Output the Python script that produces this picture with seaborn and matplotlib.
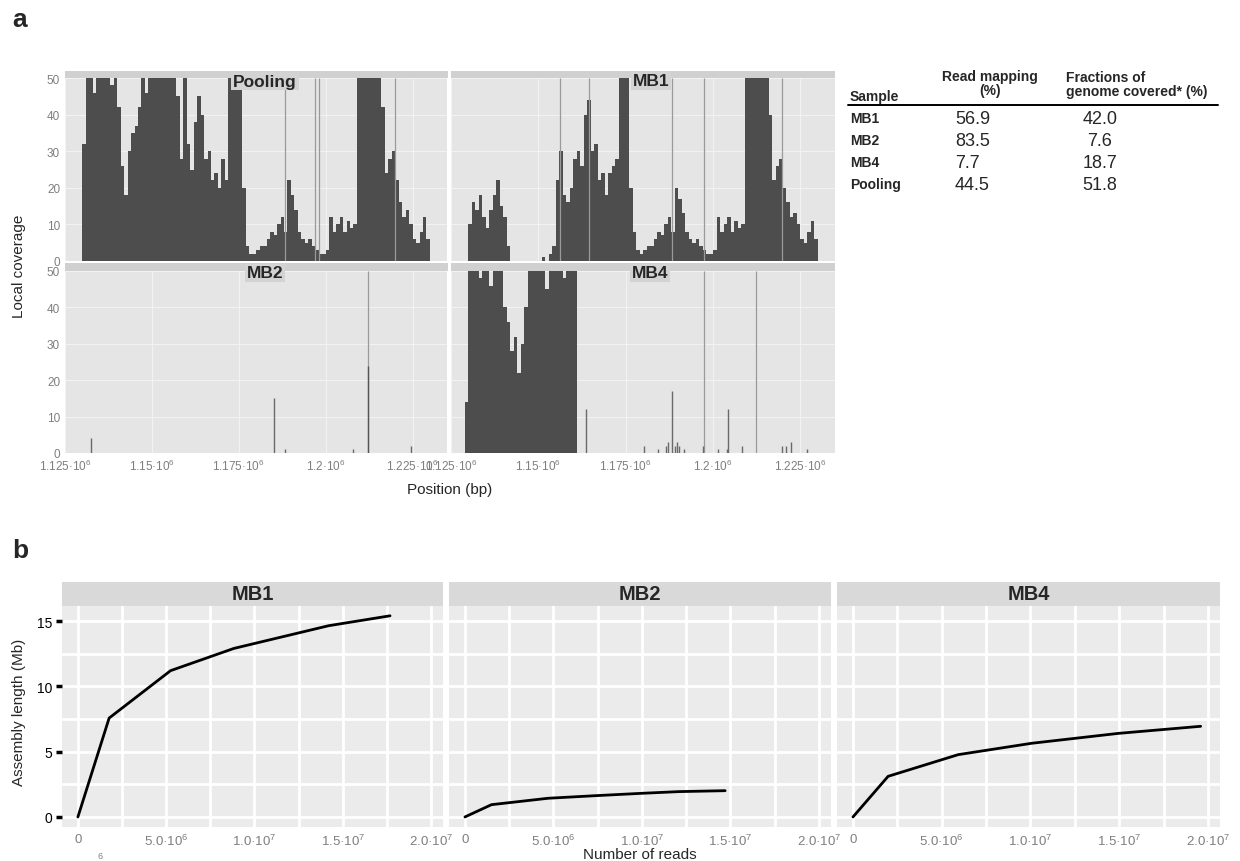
import matplotlib
matplotlib.use('Agg')
import matplotlib.pyplot as plt
import numpy as np
import pandas as pd
import seaborn as sns

W, H = 1240, 862

# ---- panel a: local coverage, one value per 1 kb window ----
x0_bp = 1125000          # left end of the axis
pool_start_kb = 5        # first window (kb after x0_bp)
pool_cov = [32, 50, 50, 46, 50, 50, 50, 50, 48, 50,
            42, 26, 18, 30, 35, 37, 42, 50, 46, 50,
            50, 50, 50, 50, 50, 50, 50, 45, 28, 50,
            32, 25, 38, 45, 40, 28, 30, 22, 24, 20,
            28, 22, 50, 50, 50, 50, 20, 4, 2, 2,
            3, 4, 4, 6, 8, 7, 10, 12, 8, 22,
            18, 14, 8, 6, 5, 6, 4, 3, 2, 2,
            3, 12, 8, 10, 12, 8, 11, 9, 10, 50,
            50, 50, 50, 50, 50, 50, 42, 24, 28, 30,
            22, 16, 12, 14, 10, 6, 5, 8, 12, 6]
mb1_start_kb = 5
mb1_cov = [10, 16, 14, 18, 12, 9, 14, 18, 22, 15,
           12, 4, 0, 0, 0, 0, 0, 0, 0, 0,
           0, 1, 0, 2, 4, 22, 30, 18, 16, 20,
           28, 30, 26, 40, 44, 30, 32, 22, 24, 18,
           24, 26, 28, 50, 50, 50, 20, 8, 3, 2,
           3, 4, 4, 6, 8, 7, 10, 12, 8, 20,
           17, 13, 8, 6, 5, 6, 4, 3, 2, 2,
           3, 12, 8, 10, 12, 8, 11, 9, 10, 50,
           50, 50, 50, 50, 50, 50, 40, 22, 26, 28,
           20, 16, 12, 13, 10, 6, 5, 8, 11, 6]
mb4_start_kb = 4
mb4_cov = [14, 50, 50, 50, 48, 50, 50, 46, 50, 50, 50,
           40, 36, 28, 32, 22, 30, 40, 50, 50, 50,
           50, 50, 45, 50, 50, 50, 50, 48, 50, 50, 50]

# isolated small peaks (kb after x0_bp, coverage)
mb2_small_kb = [7.5, 60.1, 63.2, 83.0, 99.4]
mb2_small_cov = [4, 15, 1, 1, 2]
mb4_small_kb = [38.6, 55.3, 59.1, 61.5, 62.0, 63.2, 64.2, 64.8, 65.3, 66.8,
                72.2, 76.4, 79.0, 79.2, 83.3, 94.8, 96.0, 97.3, 101.9]
mb4_small_cov = [12, 2, 1, 2, 3, 17, 2, 3, 2, 1,
                 2, 1, 1, 12, 2, 2, 2, 3, 1]

# thin full-height peaks
pool_spike_kb = [63.2, 71.8, 73.1, 94.8]
mb1_spike_kb = [31.1, 39.6, 63.2, 72.3, 94.8]
mb2_spike_kb = [87.1]
mb2_spike_dark = [24]
mb4_spike_kb = [72.4, 87.2]

pos_ticks = [1125000, 1150000, 1175000, 1200000, 1225000]
pos_labels = ['1.125·10$^6$', '1.15·10$^6$', '1.175·10$^6$', '1.2·10$^6$', '1.225·10$^6$']

# ---- table ----
table_samples = ['MB1', 'MB2', 'MB4', 'Pooling']
read_mapping = ['56.9', '83.5', '7.7', '44.5']
genome_covered = ['42.0', '7.6', '18.7', '51.8']

# ---- panel b: assembly length vs number of reads ----
mb1_reads = [0, 1.77e6, 5.25e6, 8.83e6, 1.42e7, 1.768e7]
mb1_len = [0, 7.57, 11.2, 12.9, 14.64, 15.4]
mb2_reads = [0, 1.5e6, 4.7e6, 7.4e6, 1.0e7, 1.21e7, 1.47e7]
mb2_len = [0, 0.94, 1.43, 1.63, 1.81, 1.94, 2.01]
mb4_reads = [0, 1.98e6, 5.93e6, 1.007e7, 1.497e7, 1.959e7]
mb4_len = [0, 3.11, 4.77, 5.64, 6.4, 6.94]

reads_ticks = [0, 5e6, 1e7, 1.5e7, 2e7]
reads_labels = ['0', '5.0·10$^6$', '1.0·10$^7$', '1.5·10$^7$', '2.0·10$^7$']

sns.set_theme(style='darkgrid')
plt.rcParams['font.family'] = ['Liberation Sans', 'DejaVu Sans']
plt.rcParams['mathtext.fontset'] = 'custom'
plt.rcParams['mathtext.rm'] = 'Liberation Sans'
plt.rcParams['mathtext.it'] = 'Liberation Sans'
plt.rcParams['mathtext.bf'] = 'Liberation Sans:bold'

fig = plt.figure(figsize=(W / 100, H / 100), dpi=100)


def rect(x0, y0, x1, y1):
    return [x0 / W, 1 - y1 / H, (x1 - x0) / W, (y1 - y0) / H]


def cov_frame(start_kb, cov):
    kb = start_kb + np.arange(len(cov))
    return pd.DataFrame({'pos': x0_bp + (kb + 0.5) * 1000, 'cov': cov})


grey_txt = '#7f7f7f'
bar_col = '#4d4d4d'


def coverage_panel(box, strip, label, label_xy, cov_df=None, small=None,
                   spikes=None, dark_spikes=None, left=False, bottom=False):
    fig.patches.append(plt.Rectangle((strip[0] / W, 1 - strip[3] / H),
                                     (strip[2] - strip[0]) / W, (strip[3] - strip[1]) / H,
                                     transform=fig.transFigure, fc='#d0d0d0', ec='none'))
    ax = fig.add_axes(rect(*box))
    ax.set_facecolor('#e5e5e5')
    if cov_df is not None:
        sns.histplot(data=cov_df, x='pos', weights='cov', binwidth=1000,
                     binrange=(x0_bp, x0_bp + 110000), color=bar_col,
                     alpha=1, linewidth=0, ax=ax)
    if spikes is not None:
        ax.vlines(x0_bp + np.array(spikes) * 1000, 0, 50, color='#9a9a9a', lw=0.9)
    if dark_spikes is not None:
        ax.vlines(x0_bp + np.array(dark_spikes[0]) * 1000, 0, dark_spikes[1],
                  color='#555555', lw=1.0)
    if small is not None:
        ax.vlines(x0_bp + np.array(small[0]) * 1000, 0, small[1], color='#6a6a6a', lw=1.0)
    ax.set_xticks(pos_ticks)
    ax.set_yticks([0, 10, 20, 30, 40, 50])
    ax.set_xlim(x0_bp, x0_bp + 109900)
    ax.set_ylim(0, 50)
    ax.grid(True, color='#f2f2f2', lw=0.8)
    ax.set_axisbelow(True)
    for s in ax.spines.values():
        s.set_visible(False)
    ax.tick_params(length=2.5, width=0.6, color=grey_txt, pad=1,
                   labelsize=8.5, labelcolor=grey_txt)
    if bottom:
        ax.set_xticklabels(pos_labels)
    else:
        ax.set_xticklabels([])
    if not left:
        ax.set_yticklabels([])
    ax.set_xlabel('')
    ax.set_ylabel('')
    fig.text(label_xy[0] / W, 1 - label_xy[1] / H, label, ha='center', va='center',
             fontsize=12.5, fontweight='bold',
             bbox=dict(fc='#d3d3d3', ec='none', pad=1.2))
    return ax


coverage_panel((65, 79, 447, 262), (65, 72, 448, 79), 'Pooling', (265, 82),
               cov_df=cov_frame(pool_start_kb, pool_cov), spikes=pool_spike_kb, left=True)
coverage_panel((451, 79, 835, 262), (451, 72, 835, 79), 'MB1', (651, 82),
               cov_df=cov_frame(mb1_start_kb, mb1_cov), spikes=mb1_spike_kb)
coverage_panel((65, 272, 447, 454), (65, 264, 448, 272), 'MB2', (265, 274),
               small=(mb2_small_kb, mb2_small_cov), spikes=mb2_spike_kb,
               dark_spikes=(mb2_spike_kb, mb2_spike_dark), left=True, bottom=True)
coverage_panel((451, 272, 835, 454), (451, 264, 835, 272), 'MB4', (650, 274),
               cov_df=cov_frame(mb4_start_kb, mb4_cov), spikes=mb4_spike_kb,
               small=(mb4_small_kb, mb4_small_cov), bottom=True)

fig.text(12 / W, 1 - 20 / H, 'a', fontsize=19, fontweight='bold', va='center')
fig.text(19 / W, 1 - 266 / H, 'Local coverage', rotation=90, fontsize=11,
         ha='center', va='center')
fig.text(450 / W, 1 - 490 / H, 'Position (bp)', fontsize=11, ha='center', va='center')

# table
fig.text(850 / W, 1 - 97 / H, 'Sample', fontsize=10, fontweight='bold', va='center')
fig.text(990 / W, 1 - 84 / H, 'Read mapping\n(%)', fontsize=10, fontweight='bold',
         ha='center', va='center', linespacing=1.0)
fig.text(1066 / W, 1 - 85 / H, 'Fractions of\ngenome covered* (%)', fontsize=10,
         fontweight='bold', ha='left', va='center', linespacing=1.0)
fig.add_artist(plt.Line2D([848 / W, 1218 / W], [1 - 106 / H, 1 - 106 / H],
                          color='black', lw=1.4))
row_y = [119, 141, 163, 185]
for name, rm, gc, y in zip(table_samples, read_mapping, genome_covered, row_y):
    fig.text(850 / W, 1 - y / H, name, fontsize=10, fontweight='bold', va='center')
    fig.text(955 / W, 1 - y / H, rm, fontsize=13, va='center', ha='left')
    fig.text(1100 / W, 1 - y / H, gc, fontsize=13, va='center', ha='center')

# ---- panel b ----
curves = [('MB1', mb1_reads, mb1_len, 62, 443),
          ('MB2', mb2_reads, mb2_len, 449, 831),
          ('MB4', mb4_reads, mb4_len, 837, 1220)]
for i, (name, reads, length, xa, xb) in enumerate(curves):
    fig.patches.append(plt.Rectangle((xa / W, 1 - 607 / H), (xb - xa) / W, 24 / H,
                                     transform=fig.transFigure, fc='#d9d9d9', ec='none'))
    fig.text((xa + xb) / 2 / W, 1 - 595 / H, name, fontsize=14.5, fontweight='bold',
             ha='center', va='center')
    ax = fig.add_axes(rect(xa, 607, xb, 828))
    ax.set_facecolor('#ebebeb')
    df = pd.DataFrame({'reads': reads, 'length': length})
    sns.lineplot(data=df, x='reads', y='length', color='black', linewidth=2,
                 estimator=None, ax=ax)
    ax.set_xticks(reads_ticks)
    ax.set_xticks([2.5e6, 7.5e6, 1.25e7, 1.75e7], minor=True)
    ax.set_yticks([0, 5, 10, 15])
    ax.set_yticks([2.5, 7.5, 12.5], minor=True)
    ax.set_xlim(-0.9e6, 2.068e7)
    ax.set_ylim(-0.77, 16.15)
    ax.grid(True, which='both', color='white', lw=2.0)
    ax.set_axisbelow(True)
    for s in ax.spines.values():
        s.set_visible(False)
    ax.tick_params(which='major', length=4, width=2.5, color='black', pad=0.5,
                   labelsize=10)
    ax.tick_params(which='minor', length=0)
    ax.tick_params(axis='x', labelcolor=grey_txt, labelsize=9.5)
    ax.set_xticklabels(reads_labels)
    ax.tick_params(axis='y', left=(i == 0), labelleft=(i == 0), labelcolor='black', pad=3)
    ax.set_xlabel('')
    ax.set_ylabel('')

fig.text(12 / W, 1 - 551 / H, 'b', fontsize=19, fontweight='bold', va='center')
fig.text(19 / W, 1 - 712 / H, 'Assembly length (Mb)', rotation=90, fontsize=11,
         ha='center', va='center')
fig.text(640 / W, 1 - 855 / H, 'Number of reads', fontsize=11, ha='center', va='center')
fig.text(100 / W, 1 - 857 / H, '6', fontsize=6.5, color=grey_txt, ha='center', va='center')

fig.savefig('out.png', dpi=100)
